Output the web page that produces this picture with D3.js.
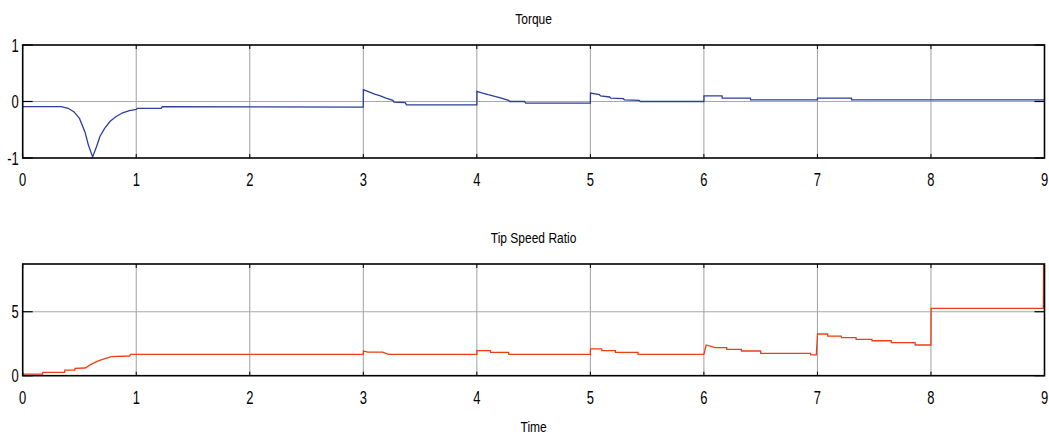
<!DOCTYPE html>
<html>
<head>
<meta charset="utf-8">
<script src="https://cdn.jsdelivr.net/npm/d3@7"></script>
<style>
  body { margin: 0; background: #fff; }
  text { font-family: "Liberation Sans", Arial, sans-serif; fill: #000; }
</style>
</head>
<body>
<svg id="vis" width="1049" height="436"></svg>
<script>
// time ticks shared by both plots
let timeTicks = [0, 1, 2, 3, 4, 5, 6, 7, 8, 9];

// Torque as [time, value]
let torqueTime = [0, 0.34, 0.4, 0.45, 0.5, 0.55, 0.58, 0.616, 0.65, 0.68, 0.72, 0.77, 0.82, 0.88, 0.94, 1.0, 1.01, 1.22, 1.23, 3,
  3.001, 3.05, 3.1, 3.15, 3.2, 3.26, 3.27, 3.37, 3.38, 4,
  4.001, 4.05, 4.1, 4.2, 4.28, 4.29, 4.42, 4.43, 5,
  5.001, 5.08, 5.09, 5.17, 5.18, 5.29, 5.3, 5.43, 5.44, 6,
  6.001, 6.16, 6.161, 6.41, 6.411, 7, 7.001, 7.3, 7.301, 9];
let torqueValue = [-0.09, -0.09, -0.12, -0.18, -0.3, -0.55, -0.78, -0.98, -0.8, -0.62, -0.48, -0.35, -0.27, -0.2, -0.16, -0.14, -0.12, -0.12, -0.09, -0.1,
  0.21, 0.17, 0.13, 0.1, 0.06, 0.02, -0.01, -0.02, -0.06, -0.06,
  0.18, 0.15, 0.12, 0.07, 0.02, 0.0, 0.0, -0.03, -0.03,
  0.15, 0.12, 0.1, 0.08, 0.06, 0.05, 0.03, 0.02, 0.0, 0.0,
  0.1, 0.1, 0.06, 0.06, 0.03, 0.03, 0.06, 0.06, 0.03, 0.03];
let torqueTicks = [-1, 0, 1];

// Tip speed ratio as [time, value]
let tsrTime = [0, 0.176, 0.177, 0.37, 0.371, 0.46, 0.461, 0.55, 0.59, 0.65, 0.71, 0.78, 0.94, 0.95, 3,
  3.001, 3.04, 3.17, 3.22, 4,
  4.001, 4.12, 4.121, 4.28, 4.281, 5,
  5.001, 5.1, 5.101, 5.22, 5.221, 5.42, 5.421, 6,
  6.02, 6.1, 6.2, 6.201, 6.33, 6.331, 6.5, 6.501, 6.94, 6.941, 6.99,
  7.001, 7.09, 7.091, 7.21, 7.211, 7.34, 7.341, 7.48, 7.481, 7.65, 7.651, 7.86, 7.861, 8,
  8.001, 8.99, 8.992];
let tsrValue = [0.13, 0.13, 0.26, 0.26, 0.44, 0.44, 0.57, 0.6, 0.83, 1.1, 1.3, 1.49, 1.54, 1.67, 1.67,
  1.93, 1.85, 1.85, 1.67, 1.67,
  1.96, 1.96, 1.82, 1.82, 1.67, 1.67,
  2.1, 2.1, 1.96, 1.96, 1.82, 1.82, 1.67, 1.67,
  2.4, 2.19, 2.19, 2.06, 2.06, 1.93, 1.93, 1.75, 1.75, 1.62, 1.62,
  3.26, 3.26, 3.1, 3.1, 2.97, 2.97, 2.84, 2.84, 2.73, 2.73, 2.58, 2.58, 2.4, 2.4,
  5.26, 5.26, 8.73];
let tsrTicks = [0, 5];

let svg = d3.select("#vis");
let left = 22.7, right = 1044.5;

// narrow text like the original figure's condensed font
function label(g, x, y, str, size, sx, anchor) {
  return g.append("text")
    .attr("transform", `translate(${x},${y}) scale(${sx},1)`)
    .attr("text-anchor", anchor)
    .style("font-size", size + "px")
    .text(str);
}

function panel(opts) {
  let x = d3.scaleLinear().domain([0, 9]).range([left, right]);
  let y = d3.scaleLinear().domain(opts.domain).range([opts.bottom, opts.top]);
  let g = svg.append("g");

  label(g, (left + right) / 2, opts.top - 21, opts.title, 15, 0.8, "middle");

  // grid
  g.selectAll(".vgrid").data(timeTicks.slice(1, -1)).enter().append("line")
    .attr("x1", d => x(d)).attr("x2", d => x(d))
    .attr("y1", opts.top).attr("y2", opts.bottom)
    .attr("stroke", "#a0a0a0").attr("stroke-width", 1);
  g.selectAll(".hgrid").data(opts.ticks.filter(d => y(d) > opts.top + 1 && y(d) < opts.bottom - 1)).enter().append("line")
    .attr("x1", left).attr("x2", right)
    .attr("y1", d => y(d)).attr("y2", d => y(d))
    .attr("stroke", "#a8a8a8").attr("stroke-width", 1.2);

  // data line
  let pts = opts.t.map((t, i) => [t, opts.v[i]]);
  g.append("path")
    .datum(pts)
    .attr("fill", "none")
    .attr("stroke", opts.color)
    .attr("stroke-width", 1.3)
    .attr("d", d3.line().x(d => x(d[0])).y(d => y(d[1])));

  // frame
  g.append("rect")
    .attr("x", left).attr("y", opts.top)
    .attr("width", right - left).attr("height", opts.bottom - opts.top)
    .attr("fill", "none").attr("stroke", "#000").attr("stroke-width", 1.6);

  // inward ticks
  let tl = 4;
  g.selectAll(".xtb").data(timeTicks).enter().append("line")
    .attr("x1", d => x(d)).attr("x2", d => x(d))
    .attr("y1", opts.bottom).attr("y2", opts.bottom - tl)
    .attr("stroke", "#000");
  g.selectAll(".xtt").data(timeTicks).enter().append("line")
    .attr("x1", d => x(d)).attr("x2", d => x(d))
    .attr("y1", opts.top).attr("y2", opts.top + tl)
    .attr("stroke", "#000");
  g.selectAll(".ytl").data(opts.ticks).enter().append("line")
    .attr("x1", left).attr("x2", left + 10)
    .attr("y1", d => y(d)).attr("y2", d => y(d))
    .attr("stroke", "#000").attr("stroke-width", 1.2);
  g.selectAll(".ytr").data(opts.ticks).enter().append("line")
    .attr("x1", right).attr("x2", right - 10)
    .attr("y1", d => y(d)).attr("y2", d => y(d))
    .attr("stroke", "#000").attr("stroke-width", 1.2);

  // tick labels
  timeTicks.forEach(d => label(g, x(d), opts.bottom + 28, d, 18, 0.72, "middle"));
  opts.ticks.forEach(d => label(g, left - 4, y(d) + 6.5, d, 18, 0.72, "end"));
}

panel({ title: "Torque", top: 45, bottom: 158, domain: [-1, 1], ticks: torqueTicks,
        t: torqueTime, v: torqueValue, color: "#2a3f9e" });
panel({ title: "Tip Speed Ratio", top: 264, bottom: 375.7, domain: [0, 8.73], ticks: tsrTicks,
        t: tsrTime, v: tsrValue, color: "#ea3f14" });

label(svg, (left + right) / 2, 432, "Time", 15, 0.8, "middle");
</script>
</body>
</html>
